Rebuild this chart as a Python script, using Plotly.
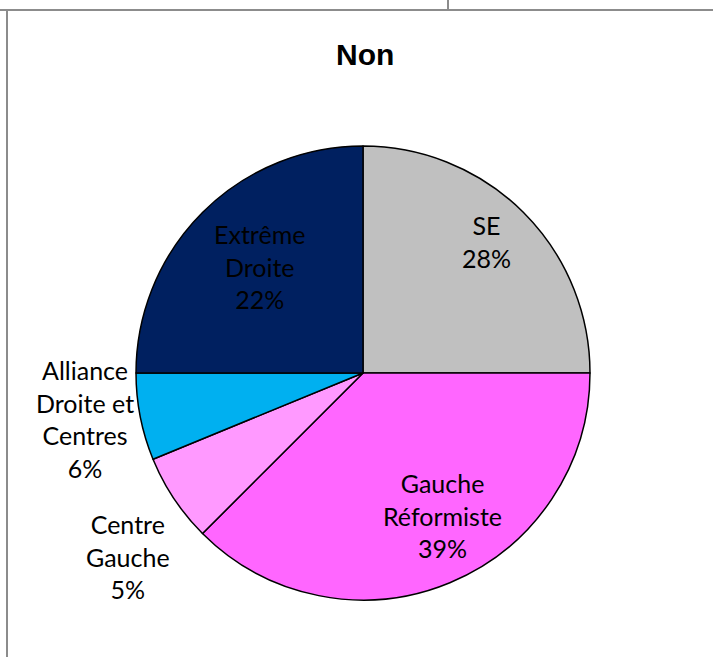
import plotly.graph_objects as go

W, H = 713, 657

parties = ["SE", "Gauche Réformiste", "Centre Gauche", "Alliance Droite et Centres", "Extrême Droite"]
shares = [25.0, 37.5, 6.3, 6.2, 25.0]
pct_labels = ["28%", "39%", "5%", "6%", "22%"]
label_lines = ["SE", "Gauche<br>Réformiste", "Centre<br>Gauche", "Alliance<br>Droite et<br>Centres", "Extrême<br>Droite"]
colors = ["#C0C0C0", "#FF66FF", "#FF99FF", "#00B0F0", "#002060"]
title_text = "Non"

# Layout helpers (pixel -> paper)
def px(x):
    return x / W

def py(y):
    return 1 - y / H

cx, cy, r = 363, 373, 227

fig = go.Figure(go.Pie(
    labels=parties,
    values=shares,
    sort=False,
    direction="clockwise",
    rotation=0,
    marker=dict(colors=colors, line=dict(color="#000000", width=1.5)),
    textinfo="none",
    hoverinfo="label+percent",
    showlegend=False,
    domain=dict(x=[px(cx - r), px(cx + r)], y=[py(cy + r), py(cy - r)]),
))

label_pos = [(487, 241), (442, 515), (128, 556), (85, 419), (259, 267)]
annotations = []
for text, pct, (lx, ly) in zip(label_lines, pct_labels, label_pos):
    annotations.append(dict(
        x=px(lx), y=py(ly), xref="paper", yref="paper",
        text=f"{text}<br>{pct}", showarrow=False,
        xanchor="center", yanchor="middle", align="center",
        font=dict(family="Lato, 'Open Sans', sans-serif", size=25, color="#000000"),
    ))
annotations.append(dict(
    x=px(364.5), y=py(54), xref="paper", yref="paper",
    text=f"<b>{title_text}</b>", showarrow=False,
    xanchor="center", yanchor="middle",
    font=dict(family="Liberation Sans, Arial, sans-serif", size=30, color="#000000"),
))

line_col = "#8C8C8C"
shapes = [
    dict(type="line", xref="paper", yref="paper", x0=0, x1=1, y0=py(10), y1=py(10),
         line=dict(color=line_col, width=2)),
    dict(type="line", xref="paper", yref="paper", x0=px(7), x1=px(7), y0=py(10), y1=0,
         line=dict(color=line_col, width=2)),
    dict(type="line", xref="paper", yref="paper", x0=px(448), x1=px(448), y0=1, y1=py(10),
         line=dict(color=line_col, width=2)),
]

fig.update_layout(
    width=W, height=H,
    margin=dict(l=0, r=0, t=0, b=0),
    paper_bgcolor="#FFFFFF",
    plot_bgcolor="#FFFFFF",
    annotations=annotations,
    shapes=shapes,
)

fig.write_html("out.html")
